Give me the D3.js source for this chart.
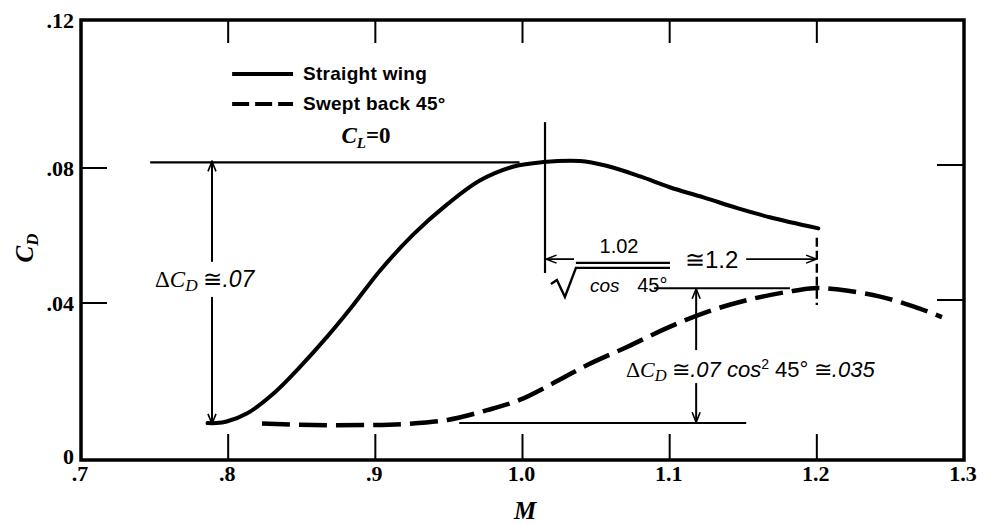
<!DOCTYPE html>
<html>
<head>
<meta charset="utf-8">
<script src="https://cdn.jsdelivr.net/npm/d3@7"></script>
<style>
  body { margin: 0; background: #fff; }
  text { fill: #000; }
</style>
</head>
<body>
<div id="chart"></div>
<script>
// tick values and labels
var xTicks = [0.7, 0.8, 0.9, 1.0, 1.1, 1.2, 1.3];
var xTickLabels = ['.7', '.8', '.9', '1.0', '1.1', '1.2', '1.3'];
var yTicks = [0, 0.04, 0.08, 0.12];
var yTickLabels = ['0', '.04', '.08', '.12'];

// straight wing, C_L = 0
var straightM  = [0.786, 0.792, 0.799, 0.813, 0.831, 0.849, 0.867, 0.885, 0.903, 0.926, 0.949, 0.971, 0.994, 1.014, 1.039, 1.057, 1.080, 1.100, 1.123, 1.146, 1.168, 1.201];
var straightCD = [0.0094, 0.0094, 0.0098, 0.0119, 0.0170, 0.0238, 0.0313, 0.0395, 0.0495, 0.0604, 0.0693, 0.0763, 0.0804, 0.0816, 0.0819, 0.0806, 0.0775, 0.0743, 0.0713, 0.0681, 0.0654, 0.0621];

// swept back 45 deg
var sweptM  = [0.823, 0.858, 0.894, 0.921, 0.949, 0.976, 0.998, 1.021, 1.044, 1.071, 1.098, 1.125, 1.153, 1.180, 1.198, 1.216, 1.243, 1.266, 1.285];
var sweptCD = [0.0093, 0.0089, 0.0089, 0.0092, 0.0102, 0.0127, 0.0153, 0.0196, 0.0242, 0.0288, 0.0336, 0.0377, 0.0409, 0.0433, 0.0444, 0.0439, 0.0419, 0.0391, 0.0364];

var width = 983, height = 526;

var svg = d3.select('#chart').append('svg')
    .attr('width', width)
    .attr('height', height)
    .style('background', '#fff');

// the printed grid is hand drawn, so y uses the positions of its own ticks
var x = d3.scaleLinear().domain([0.7, 1.3]).range([81, 964]);
var y = d3.scaleLinear().domain([0, 0.04, 0.08, 0.12]).range([460, 303, 168, 20]);

var serif = 'Liberation Serif, DejaVu Serif, serif';
var sans = 'Liberation Sans, Arial, sans-serif';

// arrow heads (open chevrons)
var defs = svg.append('defs');
defs.append('marker')
    .attr('id', 'arr')
    .attr('viewBox', '0 0 12 10')
    .attr('refX', 11).attr('refY', 5)
    .attr('markerWidth', 12).attr('markerHeight', 10)
    .attr('markerUnits', 'userSpaceOnUse')
    .attr('orient', 'auto-start-reverse')
    .append('path')
    .attr('d', 'M1,1 L11,5 L1,9')
    .attr('fill', 'none')
    .attr('stroke', '#000')
    .attr('stroke-width', 1.6);

// frame
svg.append('rect')
    .attr('x', x(0.7)).attr('y', y(0.12))
    .attr('width', x(1.3) - x(0.7))
    .attr('height', y(0) - y(0.12))
    .attr('fill', 'none')
    .attr('stroke', '#000')
    .attr('stroke-width', 3.5);

// inner ticks
var innerX = xTicks.slice(1, -1);
var innerY = yTicks.slice(1, -1);
var ticks = svg.append('g').attr('stroke', '#000').attr('stroke-width', 2);
ticks.selectAll('.tb').data(innerX).enter().append('line')
    .attr('x1', function(d) { return x(d); }).attr('x2', function(d) { return x(d); })
    .attr('y1', y(0)).attr('y2', y(0) - 26);
ticks.selectAll('.tt').data(innerX).enter().append('line')
    .attr('x1', function(d) { return x(d); }).attr('x2', function(d) { return x(d); })
    .attr('y1', y(0.12)).attr('y2', y(0.12) + 23);
ticks.selectAll('.tl').data(innerY).enter().append('line')
    .attr('x1', x(0.7)).attr('x2', x(0.7) + 26)
    .attr('y1', function(d) { return y(d); }).attr('y2', function(d) { return y(d); });
ticks.selectAll('.tr').data(innerY).enter().append('line')
    .attr('x1', x(1.3)).attr('x2', x(1.3) - 27)
    .attr('y1', function(d) { return y(d) - 3; }).attr('y2', function(d) { return y(d) - 3; });

// tick labels
svg.append('g').selectAll('text').data(xTicks).enter().append('text')
    .attr('x', function(d) { return x(d) - 1; })
    .attr('y', 481)
    .attr('text-anchor', 'middle')
    .style('font-family', serif)
    .style('font-weight', 'bold')
    .style('font-size', '22px')
    .text(function(d, i) { return xTickLabels[i]; });

svg.append('g').selectAll('text').data(yTicks).enter().append('text')
    .attr('x', 74)
    .attr('y', function(d) { return d === 0 ? y(d) + 4 : y(d) + 8; })
    .attr('text-anchor', 'end')
    .style('font-family', serif)
    .style('font-weight', 'bold')
    .style('font-size', '22px')
    .text(function(d, i) { return yTickLabels[i]; });

// axis titles
svg.append('text')
    .attr('x', 525).attr('y', 519)
    .attr('text-anchor', 'middle')
    .style('font-family', serif)
    .style('font-style', 'italic')
    .style('font-weight', 'bold')
    .style('font-size', '25px')
    .text('M');

var yTitle = svg.append('text')
    .attr('transform', 'translate(33,248) rotate(-90)')
    .attr('text-anchor', 'middle')
    .style('font-family', serif)
    .style('font-style', 'italic')
    .style('font-weight', 'bold')
    .style('font-size', '25px');
yTitle.append('tspan').text('C');
yTitle.append('tspan').attr('dy', 5).style('font-size', '17px').text('D');

// curves
var line = d3.line()
    .x(function(d) { return x(d[0]); })
    .y(function(d) { return y(d[1]); })
    .curve(d3.curveCatmullRom.alpha(0.5));

svg.append('path')
    .datum(d3.zip(straightM, straightCD))
    .attr('d', line)
    .attr('fill', 'none')
    .attr('stroke', '#000')
    .attr('stroke-width', 4)
    .attr('stroke-linecap', 'round');

svg.append('path')
    .datum(d3.zip(sweptM, sweptCD))
    .attr('d', line)
    .attr('fill', 'none')
    .attr('stroke', '#000')
    .attr('stroke-width', 4.5)
    .attr('stroke-dasharray', '28,9');

// annotation lines, in chart units
var ann = svg.append('g').attr('fill', 'none').attr('stroke', '#000');

function seg(m1, c1, m2, c2, w) {
    return ann.append('line')
        .attr('x1', x(m1)).attr('y1', y(c1))
        .attr('x2', x(m2)).attr('y2', y(c2))
        .attr('stroke-width', w || 2);
}

seg(0.747, 0.0815, 0.998, 0.0815, 2.2);      // peak level
seg(0.789, 0.0522, 0.789, 0.0818, 2).attr('marker-end', 'url(#arr)');
seg(0.789, 0.0418, 0.789, 0.0092, 2).attr('marker-end', 'url(#arr)');
seg(0.957, 0.0094, 1.152, 0.0094, 2);        // lower level
seg(1.0893, 0.0444, 1.1817, 0.0444, 2);      // swept peak level
seg(1.118, 0.0280, 1.118, 0.0442, 2).attr('marker-end', 'url(#arr)');
seg(1.118, 0.0196, 1.118, 0.0096, 2).attr('marker-end', 'url(#arr)');
seg(1.0153, 0.0924, 1.0153, 0.0489, 2.2);    // M = 1.02
seg(1.2, 0.0593, 1.2, 0.0395, 2.4).attr('stroke-dasharray', '9,4');
seg(1.035, 0.0530, 1.0163, 0.0530, 1.8).attr('marker-end', 'url(#arr)');
seg(1.152, 0.0530, 1.1995, 0.0530, 1.8).attr('marker-end', 'url(#arr)');
seg(1.0363, 0.0519, 1.1002, 0.0519, 2.4);    // fraction bar

// radical sign
var rx = x(1.0363), ry = y(0.0504);
ann.append('path')
    .attr('d', 'M' + (rx - 25) + ',' + (ry + 16) + ' L' + (rx - 19) + ',' + (ry + 12) +
               ' L' + (rx - 11) + ',' + (ry + 29) + ' L' + rx + ',' + ry +
               ' L' + x(1.1002) + ',' + ry)
    .attr('stroke-width', 2.4)
    .attr('stroke-linejoin', 'miter');

// legend
var legend = [
    { label: 'Straight wing', cd: 0.1054, dash: null },
    { label: 'Swept back 45°', cd: 0.0973, dash: '17,6' }
];
var lg = svg.append('g');
lg.selectAll('line').data(legend).enter().append('line')
    .attr('x1', x(0.8027)).attr('x2', x(0.8441))
    .attr('y1', function(d) { return y(d.cd); })
    .attr('y2', function(d) { return y(d.cd); })
    .attr('stroke', '#000')
    .attr('stroke-width', 4)
    .attr('stroke-dasharray', function(d) { return d.dash; });
lg.selectAll('text').data(legend).enter().append('text')
    .attr('x', x(0.8508))
    .attr('y', function(d) { return y(d.cd) + 6; })
    .style('font-family', sans)
    .style('font-weight', 'bold')
    .style('font-size', '19px')
    .style('letter-spacing', '0.3px')
    .text(function(d) { return d.label; });

// text helpers
function label(m, cd) {
    return svg.append('text').attr('x', x(m)).attr('y', y(cd));
}
function addCD(t, size) {
    t.append('tspan').style('font-family', serif).text('Δ');
    t.append('tspan').style('font-family', serif).style('font-style', 'italic').text('C');
    t.append('tspan').attr('dy', 4).style('font-family', serif).style('font-style', 'italic')
        .style('font-size', (size * 0.75) + 'px').text('D');
    t.append('tspan').attr('dy', -4).style('font-family', serif).text(' ≅');
}

var t1 = label(0.877, 0.0868).style('font-size', '23px').style('font-weight', 'bold');
t1.append('tspan').style('font-family', serif).style('font-style', 'italic').text('C');
t1.append('tspan').attr('dy', 5).style('font-family', serif).style('font-style', 'italic')
    .style('font-size', '15px').text('L');
t1.append('tspan').attr('dy', -5).style('font-family', serif).text('=0');

var t2 = label(0.7503, 0.0446).style('font-size', '23px');
addCD(t2, 23);
t2.append('tspan').style('font-family', sans).style('font-style', 'italic').text('.07');

var t3 = label(1.0703, 0.0211).style('font-size', '22px');
addCD(t3, 22);
t3.append('tspan').style('font-family', sans).style('font-style', 'italic').text('.07 cos');
t3.append('tspan').attr('dy', -8).style('font-family', sans).style('font-size', '14px').text('2');
t3.append('tspan').attr('dy', 8).style('font-family', sans).text(' 45°');
t3.append('tspan').style('font-family', serif).text(' ≅');
t3.append('tspan').style('font-family', sans).style('font-style', 'italic').text('.035');

label(1.0656, 0.0548)
    .attr('text-anchor', 'middle')
    .style('font-family', sans)
    .style('font-size', '20px')
    .text('1.02');

label(1.0459, 0.0432)
    .style('font-family', sans)
    .style('font-style', 'italic')
    .style('font-size', '19px')
    .text('cos');
label(1.0779, 0.0432)
    .style('font-family', sans)
    .style('font-size', '20px')
    .text('45°');

label(1.1104, 0.0504)
    .style('font-family', sans)
    .style('font-size', '24px')
    .text('≅1.2');
</script>
</body>
</html>
